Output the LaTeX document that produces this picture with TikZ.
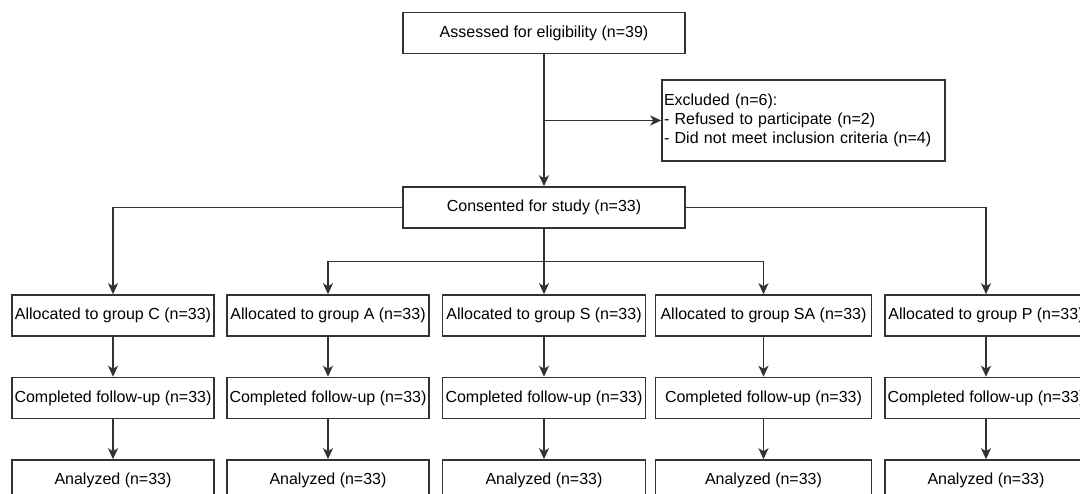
\documentclass[tikz,border=0pt]{standalone}
\usepackage{fontspec}
\setmainfont{Liberation Sans}
\usetikzlibrary{arrows.meta, calc, positioning}
\definecolor{flowgray}{rgb}{0.2, 0.2, 0.2}

\begin{document}
\begin{tikzpicture}[
				x=1pt, y=-1pt,
				texts/.style = {text=black, font=\fontsize{16}{19}\selectfont},
				flowline/.style = {draw=flowgray, line width=1.5pt},
				arrowline/.style = {flowline, -{Stealth[length=11pt, width=10pt, inset=3pt]}},
				flowbox/.style = {texts, rectangle, flowline, fill=white, inner sep=0pt, minimum height=41pt, align=center},
				sidebox/.style = {texts, rectangle, flowline, fill=white, inner xsep=2pt, inner ysep=0pt, minimum height=81pt, text width=279pt, align=left}
				]
				\useasboundingbox (0,0) rectangle (1080,494);
				
				% screening
				\node[flowbox, minimum width=282pt] (assessed) at (544,33) {Assessed for eligibility (n=39)};
				\node[sidebox] (excluded) at (803.5,120.5) {Excluded (n=6):\\- Refused to participate (n=2)\\- Did not meet inclusion criteria (n=4)};
				\node[flowbox, minimum width=282pt] (consented) at (544,207.5) {Consented for study (n=33)};
				
				% allocation
				\node[flowbox, minimum width=202pt] (allocC) at (113,315.5) {Allocated to group C (n=33)};
				\node[flowbox, minimum width=202pt] (allocA) at (328,315.5) {Allocated to group A (n=33)};
				\node[flowbox, minimum width=203pt] (allocS) at (544,315.5) {Allocated to group S (n=33)};
				\node[flowbox, minimum width=216pt] (allocSA) at (763.5,315.5) {Allocated to group SA (n=33)};
				\node[flowbox, minimum width=202pt] (allocP) at (986,315.5) {Allocated to group P (n=33)};
				
				% follow-up
				\node[flowbox, minimum width=202pt, below = 40pt of allocC] (followC) {Completed follow-up (n=33)};
				\node[flowbox, minimum width=202pt, below = 40pt of allocA] (followA) {Completed follow-up (n=33)};
				\node[flowbox, minimum width=203pt, below = 40pt of allocS] (followS) {Completed follow-up (n=33)};
				\node[flowbox, minimum width=216pt, below = 40pt of allocSA] (followSA) {Completed follow-up (n=33)};
				\node[flowbox, minimum width=202pt, below = 40pt of allocP] (followP) {Completed follow-up (n=33)};
				
				% analysis
				\node[flowbox, minimum width=202pt, below = 40pt of followC] (analyC) {Analyzed (n=33)};
				\node[flowbox, minimum width=202pt, below = 40pt of followA] (analyA) {Analyzed (n=33)};
				\node[flowbox, minimum width=203pt, below = 40pt of followS] (analyS) {Analyzed (n=33)};
				\node[flowbox, minimum width=216pt, below = 40pt of followSA] (analySA) {Analyzed (n=33)};
				\node[flowbox, minimum width=202pt, below = 40pt of followP] (analyP) {Analyzed (n=33)};
				
				\draw[arrowline] (assessed) -- (consented);
				\draw[arrowline] (assessed.south |- excluded.west) -- (excluded.west);
				\draw[arrowline] (consented.west) -| (allocC.north);
				\draw[arrowline] (consented.east) -| (allocP.north);
				\draw[arrowline] (consented) -- (allocS);
				\coordinate (branch) at ($(consented.south)!0.5!(allocS.north)$);
				\draw[arrowline] (branch) -| (allocA.north);
				\draw[arrowline] (branch) -| (allocSA.north);
				
				\draw[arrowline] (allocC) -- (followC);
				\draw[arrowline] (allocA) -- (followA);
				\draw[arrowline] (allocS) -- (followS);
				\draw[arrowline] (allocSA) -- (followSA);
				\draw[arrowline] (allocP) -- (followP);
				\draw[arrowline] (followC) -- (analyC);
				\draw[arrowline] (followA) -- (analyA);
				\draw[arrowline] (followS) -- (analyS);
				\draw[arrowline] (followSA) -- (analySA);
				\draw[arrowline] (followP) -- (analyP);
				\end{tikzpicture}
\end{document}
